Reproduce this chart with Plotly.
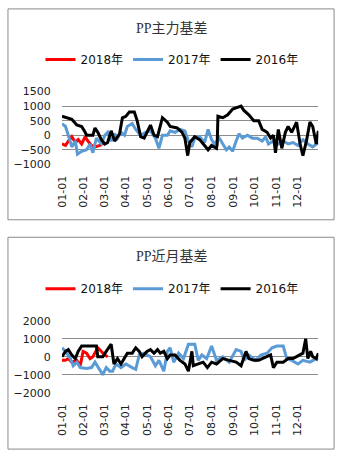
import plotly.graph_objects as go
import pandas as pd

BASE = pd.Timestamp("2016-01-01")

# ---------- PP主力基差 (top chart) ----------
main_2018_days = [0, 5, 9, 14, 19, 23, 28, 33, 37, 42, 47, 54, 61]
main_2018_vals = [-300, -350, -200, -50, -250, -150, -300, -50, -200, -350, -400, -350, -250]

main_2017_days = [0, 5, 9, 14, 19, 22, 28, 35, 40, 44, 49, 56, 61, 65, 70, 75, 79, 84, 89, 93,
                  100, 105, 112, 119, 126, 133, 138, 143, 150, 154, 161, 168, 175, 180, 185, 189,
                  196, 203, 208, 213, 217, 224, 229, 234, 238, 243, 248, 252, 257, 264, 271, 278,
                  285, 290, 294, 301, 308, 315, 322, 329, 336, 343, 350, 357, 365]
main_2017_vals = [400, 300, 0, -400, -200, -650, -550, -500, -300, -600, -100, -300, 0, 100, -200, 50, -100, 100, 0, 300,
                  400, 200, 0, 100, 150, -100, -450, 0, 0, 150, 100, 200, 150, -200, -400, -100,
                  -50, -250, 200, -150, -300, -100, -300, -500, -400, -550, -200, 50, -100, 0, -100, -100,
                  -200, -50, -300, -200, -300, -200, -300, -250, -350, -150, -300, -400, -250]

main_2016_days = [0, 7, 14, 21, 28, 33, 35, 44, 47, 51, 56, 61, 65, 70, 75, 82, 86, 91, 96, 103,
                  107, 112, 117, 121, 126, 131, 136, 143, 150, 154, 164, 171, 175, 179, 182, 189,
                  196, 203, 208, 213, 220, 221, 222, 229, 236, 243, 250, 255, 259, 266, 273, 280,
                  285, 292, 297, 301, 304, 308, 313, 318, 322, 327, 334, 339, 343, 348, 353, 357, 362, 365]
main_2016_vals = [650, 600, 550, 350, 300, 100, 0, 0, 250, 100, -150, -300, -250, 150, -200, 50, 600, 650, 800, 800,
                  500, -50, -100, 100, 350, 0, -50, 600, 450, 300, 250, 100, -100, -700, -250, -50,
                  -150, -350, -500, -350, -450, -300, 650, 600, 700, 900, 950, 1000, 850, 700, 500, 500,
                  200, 100, -100, 0, -600, 200, -450, 100, 300, 100, 450, -300, -700, -200, 450, 300, -300, 150]

# ---------- PP近月基差 (bottom chart) ----------
near_2018_days = [0, 5, 9, 14, 21, 26, 30, 35, 40, 44, 51, 56, 61, 65]
near_2018_vals = [-200, -200, -100, -300, -200, -500, 300, 200, -100, 0, 500, 300, 100, 0]

near_2017_days = [0, 5, 12, 16, 21, 26, 35, 42, 47, 54, 58, 63, 68, 72, 77, 84, 91, 100, 105, 110,
                  117, 126, 133, 138, 145, 150, 154, 159, 166, 173, 180, 189, 194, 199, 206, 213,
                  220, 229, 238, 248, 255, 259, 266, 276, 283, 292, 299, 306, 315, 320, 327, 336,
                  343, 353, 362, 365]
near_2017_vals = [500, 300, -100, -500, -300, -600, -650, -600, -300, -700, -1000, -600, -800, -800, -400, -600, -400, -600, -700, 100,
                  200, 0, -500, -200, -800, 300, 500, -300, 200, -100, 700, 700, -200, 100, -100, 600,
                  -200, 0, -300, 400, 300, -200, 100, -200, 100, 200, 500, 600, 600, -100, -200, -400,
                  -200, -300, -100, -200]

near_2016_days = [0, 5, 9, 14, 19, 23, 28, 37, 49, 51, 58, 63, 70, 74, 79, 84, 89, 93, 100, 105,
                  110, 114, 121, 126, 131, 136, 140, 145, 150, 154, 161, 168, 175, 180, 185, 187,
                  194, 201, 207, 213, 220, 229, 238, 248, 255, 262, 266, 273, 280, 290, 297, 301,
                  306, 315, 322, 329, 339, 343, 347, 350, 354, 357, 362, 365]
near_2016_vals = [0, 300, 400, 100, -100, 300, 600, 600, 600, 0, 0, 300, 700, -400, -100, -400, -100, 200, 200, 500,
                  300, 0, 300, 400, 200, 400, 200, 300, -100, 100, 100, -200, -400, -800, 300, -500,
                  -400, -300, -600, -300, -400, -100, -200, -300, -500, 300, -100, -200, -200, 0, 100, -600,
                  -300, -300, -100, -100, 100, 200, 1000, -100, 300, 0, -100, 200]

series_names = ["2018年", "2017年", "2016年"]
series_colors = ["#FF0000", "#5B9BD5", "#000000"]


def to_dates(days):
    return [BASE + pd.Timedelta(days=d) for d in days]


W, H = 338, 459


def py(p):
    return 1 - p / H


def px(p):
    return p / W


fig = go.Figure()

top = [(main_2018_days, main_2018_vals), (main_2017_days, main_2017_vals), (main_2016_days, main_2016_vals)]
bot = [(near_2018_days, near_2018_vals), (near_2017_days, near_2017_vals), (near_2016_days, near_2016_vals)]

for (d, v), name, col in zip(top, series_names, series_colors):
    fig.add_trace(go.Scatter(x=to_dates(d), y=v, mode="lines", name=name,
                             line=dict(color=col, width=3), xaxis="x", yaxis="y",
                             legend="legend"))
for (d, v), name, col in zip(bot, series_names, series_colors):
    fig.add_trace(go.Scatter(x=to_dates(d), y=v, mode="lines", name=name,
                             line=dict(color=col, width=3), xaxis="x2", yaxis="y2",
                             legend="legend2"))

tickfont = dict(family="DejaVu Sans, Noto Sans CJK SC", size=11, color="#222222")
xcommon = dict(type="date", range=["2016-01-01", "2016-12-31"], tick0="2016-01-01", dtick="M1",
               tickformat="%m-%d", tickangle=-90, showgrid=False, showline=False, zeroline=False,
               tickfont=tickfont, ticks="outside", ticklen=6, tickcolor="rgba(0,0,0,0)",
               domain=[px(57), px(318)], fixedrange=True)
ycommon = dict(showgrid=True, gridcolor="#8c8c8c", gridwidth=1, zeroline=False, showline=False,
               tickfont=tickfont, ticks="outside", ticklen=8, tickcolor="rgba(0,0,0,0)")

legend_common = dict(orientation="h", xanchor="center", x=0.5, yanchor="middle",
                     font=dict(family="DejaVu Sans, Noto Sans CJK SC", size=12, color="#111111"),
                     bgcolor="rgba(0,0,0,0)", itemclick=False, itemdoubleclick=False,
                     traceorder="normal")

fig.update_layout(
    width=W, height=H,
    margin=dict(l=0, r=0, t=0, b=0),
    paper_bgcolor="white", plot_bgcolor="white",
    xaxis=dict(**xcommon, anchor="y"),
    yaxis=dict(**ycommon, range=[-1000, 1500], dtick=500, domain=[py(163), py(88)], anchor="x"),
    xaxis2=dict(**xcommon, anchor="y2"),
    yaxis2=dict(**ycommon, range=[-2000, 2000], dtick=1000, domain=[py(398), py(324)], anchor="x2"),
    legend=dict(**legend_common, y=py(55)),
    legend2=dict(**legend_common, y=py(291)),
    showlegend=True,
    shapes=[
        dict(type="rect", xref="paper", yref="paper", x0=px(2), x1=px(334), y0=py(220), y1=py(3),
             line=dict(color="#8a8a8a", width=1)),
        dict(type="rect", xref="paper", yref="paper", x0=px(2), x1=px(334), y0=py(456), y1=py(238),
             line=dict(color="#8a8a8a", width=1)),
    ],
    annotations=[
        dict(text="PP主力基差", xref="paper", yref="paper", x=0.5, y=py(23), xanchor="center",
             yanchor="middle", showarrow=False,
             font=dict(family="Liberation Serif, Noto Sans CJK SC", size=14, color="#333333")),
        dict(text="PP近月基差", xref="paper", yref="paper", x=0.5, y=py(257), xanchor="center",
             yanchor="middle", showarrow=False,
             font=dict(family="Liberation Serif, Noto Sans CJK SC", size=14, color="#333333")),
    ],
)

fig.write_html("out.html")
